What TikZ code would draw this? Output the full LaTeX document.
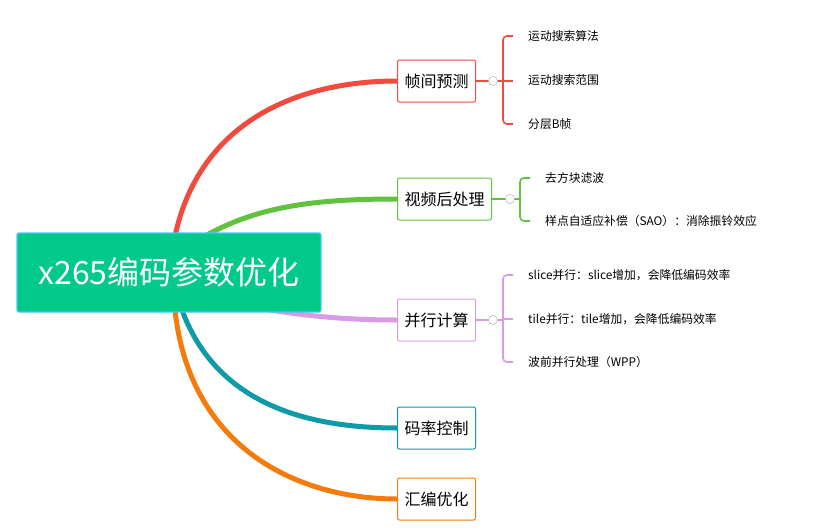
\documentclass[tikz,border=0pt]{standalone}
\usepackage{fontspec}
\setmainfont{Noto Sans CJK SC}
\usetikzlibrary{positioning}
\definecolor{cred}{HTML}{F04B3E}
\definecolor{cgreen}{HTML}{62C13F}
\definecolor{cpurple}{HTML}{DA9BE6}
\definecolor{cteal}{HTML}{0E9AA7}
\definecolor{corange}{HTML}{F47B0C}
\definecolor{cmain}{HTML}{00C98A}
\tikzset{
  topic/.style={draw=#1, line width=1pt, fill=white, rounded corners=2pt, minimum height=42pt, inner xsep=7pt, font=\fontsize{16}{16}\selectfont},
  leaf/.style={anchor=west, inner sep=1pt, font=\fontsize{11.8}{12}\selectfont},
  fold/.style={draw=gray!70, fill=white, circle, minimum size=9pt, inner sep=0pt},
  branch/.style={line width=5pt, draw=#1},
  twig/.style={line width=1.6pt, draw=#1, rounded corners=4pt}
}
\begin{document}
\begin{tikzpicture}[x=1pt,y=-1pt]
\useasboundingbox (0,0) rectangle (819,530);

% branches
\draw[branch=cred] (175,236) .. controls (200,120) and (300,81) .. (397,81);
\draw[branch=cgreen] (205,236) .. controls (260,205) and (320,199) .. (397,199);
\draw[branch=cpurple] (270,310) .. controls (320,318) and (360,320) .. (397,320);
\draw[branch=cteal] (182,310) .. controls (215,400) and (300,428) .. (397,428);
\draw[branch=corange] (175,310) .. controls (190,450) and (300,499) .. (397,499);

% center
\node[draw=cyan!70, line width=1.2pt, fill=cmain, text=white, minimum width=304pt, minimum height=79pt, rounded corners=2pt, font=\fontsize{32}{32}\selectfont] (root) at (169,272.5) {x265编码参数优化};

% topics
\node[topic=cred, anchor=west] (inter) at (397,81) {帧间预测};
\node[topic=cgreen, anchor=west] (post) at (397,199) {视频后处理};
\node[topic=cpurple, anchor=west] (para) at (397,320) {并行计算};
\node[topic=cteal, anchor=west] (rate) at (397,428) {码率控制};
\node[topic=corange, anchor=west] (asm) at (397,499) {汇编优化};

% inter leaves
\draw[twig=cred] (inter.east) -- (503,81);
\draw[twig=cred] (513,36) -- (503,36) -- (503,124) -- (513,124);
\draw[twig=cred] (503,81) -- (513,81);
\node[fold] at (493,81) {};
\node[leaf] (l1) at (527,36) {运动搜索算法};
\node[leaf] (l2) at (527,80) {运动搜索范围};
\node[leaf] (l3) at (527,124) {分层B帧};

% post leaves
\draw[twig=cgreen] (post.east) -- (520,199);
\draw[twig=cgreen] (530,178) -- (520,178) -- (520,221) -- (530,221);
\node[fold] at (510,199) {};
\node[leaf] (l4) at (544,178) {去方块滤波};
\node[leaf] (l5) at (544,221) {样点自适应补偿（SAO）：消除振铃效应};

% para leaves
\draw[twig=cpurple] (para.east) -- (503,320);
\draw[twig=cpurple] (513,275) -- (503,275) -- (503,362) -- (513,362);
\draw[twig=cpurple] (503,319) -- (513,319);
\node[fold] at (493,320) {};
\node[leaf] (l6) at (527,275) {slice并行：slice增加，会降低编码效率};
\node[leaf] (l7) at (527,319) {tile并行：tile增加，会降低编码效率};
\node[leaf] (l8) at (527,362) {波前并行处理（WPP）};
\end{tikzpicture}
\end{document}
